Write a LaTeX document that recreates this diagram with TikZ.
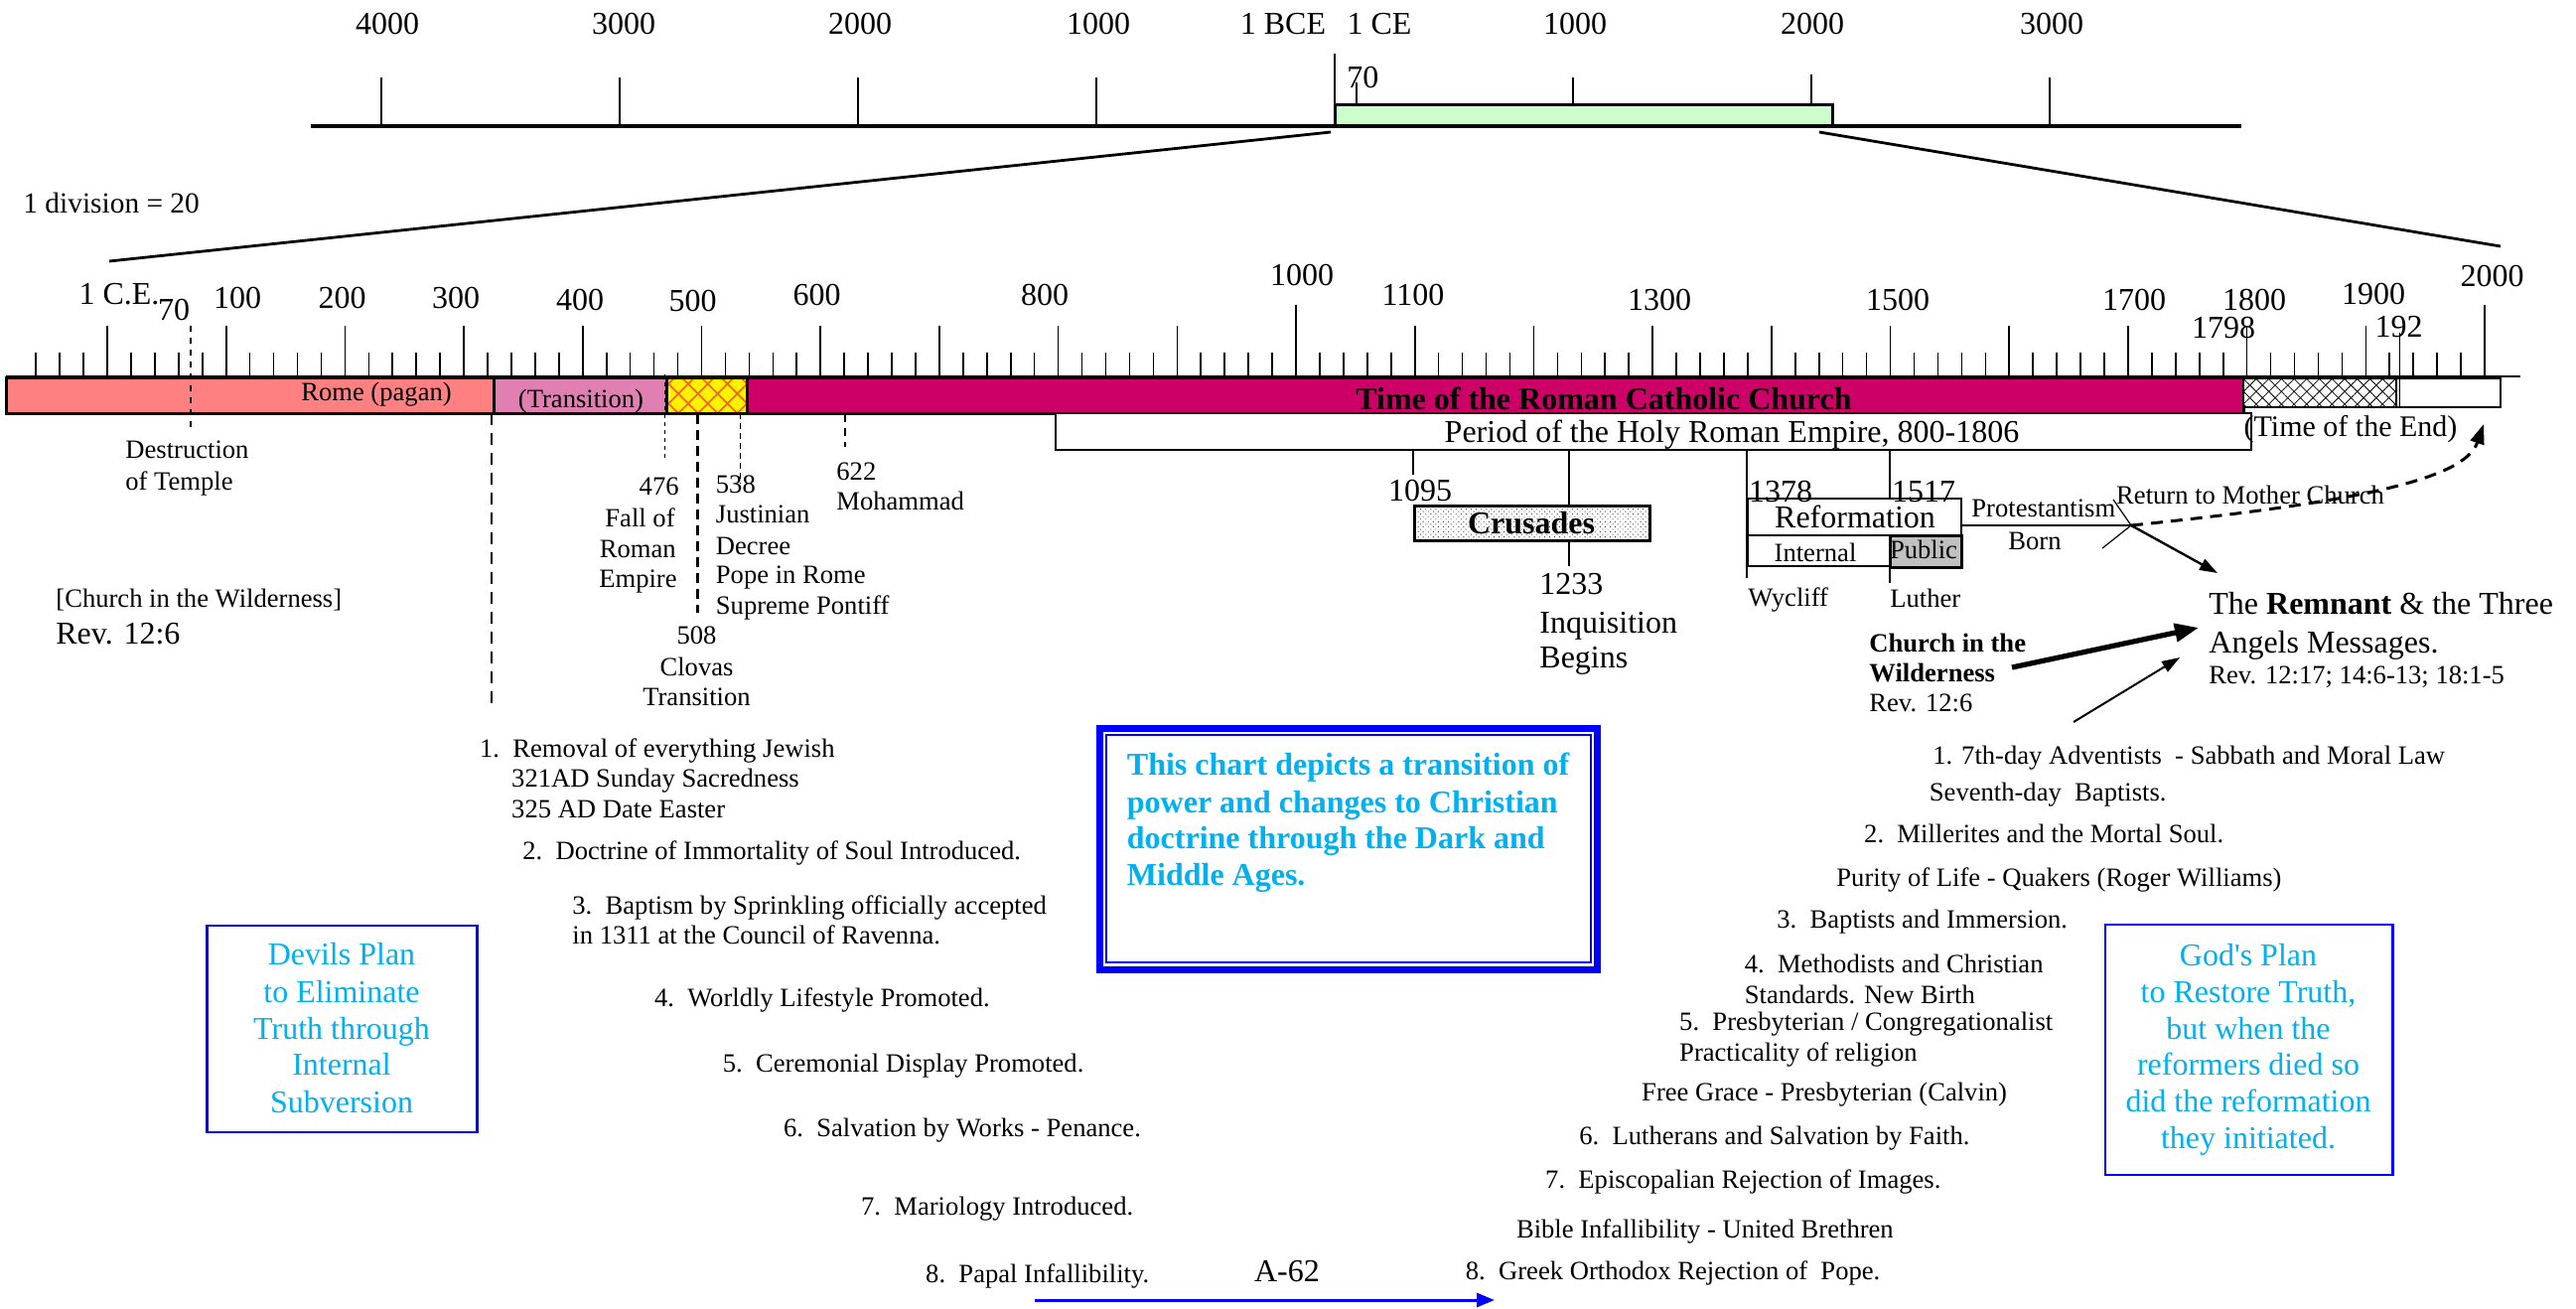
\documentclass[tikz,border=0pt]{standalone}
\usepackage{fontspec}
\setmainfont{Liberation Serif}
\usetikzlibrary{patterns,patterns.meta,arrows.meta}
\definecolor{salmonb}{RGB}{255,128,128}
\definecolor{orchidp}{RGB}{224,128,178}
\definecolor{rccm}{RGB}{204,0,102}
\definecolor{lgreen}{RGB}{204,255,204}
\definecolor{skyb}{RGB}{0,176,240}
\definecolor{pubgray}{RGB}{192,192,192}
\definecolor{hatchor}{RGB}{255,90,20}
\begin{document}
\begin{tikzpicture}[x=0.5pt,y=-0.5pt,
  sm/.style={font=\fontsize{13.3}{16}\selectfont, inner sep=0pt, text height=8.8pt, text depth=0pt},
  lg/.style={font=\fontsize{16}{19}\selectfont, inner sep=0pt, text height=10.6pt, text depth=0pt},
  md/.style={font=\fontsize{15}{18}\selectfont, inner sep=0pt, text height=9.9pt, text depth=0pt},
  blu/.style={text=skyb},
  tick/.style={line width=0.8pt},
  bar/.style={draw=black, line width=1.5pt},
  thinl/.style={line width=0.6pt},
  arr/.style={-{Triangle[length=9pt,width=6pt]}},
  bluebox/.style={draw=blue, line width=1.1pt}
]
\useasboundingbox (0,0) rectangle (2594,1317);
\fill[white] (0,0) rectangle (2594,1317);

% ---------- top axis ----------
\coordinate (ta0) at (313,127);
\coordinate (ta1) at (2257,127);
\foreach \xx in {384,624,864,1104,1584,2064}{\draw[line width=0.85pt] (\xx,78) -- (\xx,127);}
\draw[line width=0.85pt] (1824,75) -- (1824,127);
\draw[line width=1pt] (1344,54) -- (1344,127);
\draw[line width=1.5pt, fill=lgreen] (1344,105) rectangle (1845,127);
\draw[line width=0.85pt] (1824,75) -- (1824,105);
\draw[line width=0.85pt] (1584,78) -- (1584,105);
\draw[thinl] (1366,83) -- (1366,105);
\draw[line width=1.65pt] (ta0) -- (ta1);

\node[lg] (t4000) at (390,24) {4000};
\node[lg] (t3000) at (628,24) {3000};
\node[lg] (t2000) at (866,24) {2000};
\node[lg] (t1000) at (1106,24) {1000};
\node[lg] (tbce) at (1292,24) {1 BCE};
\node[lg] (tce) at (1389,24) {1 CE};
\node[lg] (t1000c) at (1586,24) {1000};
\node[lg] (t2000c) at (1825,24) {2000};
\node[lg] (t3000c) at (2066,24) {3000};
\node[lg, anchor=west] (t70) at (1356,78) {70};

% zoom lines
\coordinate (zl0) at (1340,133);
\coordinate (zl1) at (110,263);
\coordinate (zr0) at (1832,133);
\coordinate (zr1) at (2518,248);
\draw[line width=1.4pt] (zl0) -- (zl1);
\draw[line width=1.4pt] (zr0) -- (zr1);

\node[font=\fontsize{14.7}{17}\selectfont, inner sep=0pt, text height=9.7pt, text depth=0pt, anchor=west] (div) at (23,205) {1 division = 20};

% ---------- lower axis ticks ----------
\foreach \yr in {-60,-40,...,2000}{
  \pgfmathsetmacro\xx{108+1.197*\yr}
  \pgfmathsetmacro\tk{(mod(\yr,1000)==0 && \yr>0) ? 307 : (mod(\yr,100)==0 ? 328 : 355)}
  \draw[tick] (\xx,\tk) -- (\xx,379);
}
\draw[line width=1pt] (6,379) -- (2538,379);

% labels lower axis
\node[lg] (l1ce) at (120,296) {1 C.E.};
\node[lg] (l70) at (175,312) {70};
\node[lg] (l100) at (239,300) {100};
\node[lg] (l200) at (344.5,300) {200};
\node[lg] (l300) at (459,300) {300};
\node[lg] (l400) at (584,302) {400};
\node[lg] (l500) at (697.5,303) {500};
\node[lg] (l600) at (822.6,297) {600};
\node[lg] (l800) at (1052,297) {800};
\node[lg] (l1000) at (1311,277) {1000};
\node[lg] (l1100) at (1423,297) {1100};
\node[lg] (l1300) at (1671,302) {1300};
\node[lg] (l1500) at (1911,302) {1500};
\node[lg] (l1700) at (2149,302) {1700};
\node[lg] (l1800) at (2270,302) {1800};
\node[lg] (l1798) at (2239,330) {1798};
\node[lg] (l1900) at (2390,296) {1900};
\node[lg] (l192) at (2415.5,329) {192};
\node[lg] (l2000) at (2509.6,278) {2000};

% ---------- bars ----------
\draw[bar, fill=salmonb] (6,380) rectangle (497,416);
\draw[bar, fill=orchidp] (497,380) rectangle (671,416);
\draw[bar, preaction={fill=yellow}, pattern={Hatch[angle=45,distance=7pt,line width=0.8pt]}, pattern color=hatchor] (671,380) rectangle (752,416);
\draw[bar, fill=rccm] (752,380) rectangle (2259,416);
\draw[line width=1.2pt, preaction={fill=white}, pattern={Hatch[angle=45,distance=4.5pt,line width=0.4pt]}, pattern color=black] (2259,381) rectangle (2413,410);
\draw[line width=1.2pt, fill=white] (2413,381) rectangle (2518,410);
\draw[thinl] (2416.6,335) -- (2416.6,410);

\node[sm] (rome) at (379,395) {Rome (pagan)};
\node[sm] (trans) at (585,402) {(Transition)};
\node[lg, font=\fontsize{16}{19}\selectfont\bfseries] (rcc) at (1615,402) {Time of the Roman Catholic Church};

% dashed markers
\draw[line width=0.8pt, dashed] (191.8,328) -- (191.8,433);
\draw[line width=0.8pt, dash pattern=on 6pt off 4pt] (495,416) -- (495,713);
\draw[line width=0.5pt, dash pattern=on 2pt off 2pt] (669,377) -- (669,465);
\draw[line width=1.6pt, dash pattern=on 5pt off 3pt] (702.6,417) -- (702.6,617);
\draw[line width=0.5pt, dash pattern=on 3pt off 2pt] (745.7,416) -- (745.7,487);
\draw[line width=0.8pt, dash pattern=on 4pt off 3pt] (851,417) -- (851,450);

% Holy Roman Empire
\draw[thinl] (1423,453) -- (1423,478);
\draw[thinl] (1580,453) -- (1580,570);
\draw[thinl] (1759,453) -- (1759,582);
\draw[thinl] (1903,453) -- (1903,587);
\draw[line width=1.3pt, fill=white] (1063,416) rectangle (2267,453);
\node[lg] (hre) at (1744,435) {Period of the Holy Roman Empire, 800-1806};
\node[md] (toe) at (2367,430) {(Time of the End)};

% left texts
\node[sm, anchor=west] (dest1) at (126,453) {Destruction};
\node[sm, anchor=west] (dest2) at (126,485) {of Temple};
\node[sm, anchor=east] (f476) at (684,490) {476};
\node[sm, anchor=east] (f1) at (680,522) {Fall of};
\node[sm, anchor=east] (f2) at (681,553) {Roman};
\node[sm, anchor=east] (f3) at (682,583) {Empire};
\node[sm, anchor=west] (j538) at (720.5,488) {538};
\node[sm, anchor=west] (j1) at (720.5,518) {Justinian};
\node[sm, anchor=west] (j2) at (720.5,550) {Decree};
\node[sm, anchor=west] (j3) at (720.5,579) {Pope in Rome};
\node[sm, anchor=west] (j4) at (720.5,610) {Supreme Pontiff};
\node[sm] (c508) at (701.5,640) {508};
\node[sm] (c1) at (701.5,672) {Clovas};
\node[sm] (c2) at (701.5,702) {Transition};
\node[sm, anchor=west] (m622) at (842,475) {622};
\node[sm, anchor=west] (m1) at (842,505) {Mohammad};
\node[sm, anchor=west] (ciw) at (56,603) {[Church in the Wilderness]};
\node[lg, anchor=west] (rev1) at (56,638) {Rev. 12:6};

% Crusades
\node[lg] (n1095) at (1430,494) {1095};
\draw[line width=1.5pt, preaction={fill=white}, pattern={Dots[distance=1.8pt,radius=0.32pt,angle=45]}, pattern color=black!75] (1424,509) rectangle (1661,544);
\node[lg, font=\fontsize{16}{19}\selectfont\bfseries] (crus) at (1542,527) {Crusades};
\node[lg, anchor=west] (n1233) at (1550,588) {1233};
\node[lg, anchor=west] (inq1) at (1550,627) {Inquisition};
\node[lg, anchor=west] (inq2) at (1550,662) {Begins};

% Reformation
\draw[line width=0.8pt, fill=white] (1760,502) rectangle (1975,539);
\draw[line width=0.8pt, fill=white] (1760,539) rectangle (1903,570);
\draw[line width=1.5pt, fill=pubgray] (1903,539) rectangle (1975,571);
\node[lg] (n1378) at (1793,495) {1378};
\node[lg] (n1517) at (1937,495) {1517};
\node[lg] (reform) at (1868,521) {Reformation};
\node[sm] (internal) at (1828,557) {Internal};
\node[sm] (public) at (1937,554) {Public};
\node[sm, anchor=west] (wyc) at (1760,602) {Wycliff};
\node[sm, anchor=west] (luth) at (1903,603) {Luther};

\coordinate (pb0) at (1975,529);
\coordinate (pbv) at (2146,529);
\coordinate (pbu) at (2128,503);
\coordinate (pbd) at (2117,552);
\draw[line width=0.8pt] (pb0) -- (pbv);
\draw[thinl] (pbu) -- (pbv) -- (pbd);
\node[sm, anchor=west] (prot) at (1985,512) {Protestantism};
\node[sm] (born) at (2049,545) {Born};
\node[sm] (retm) at (2266,499) {Return to Mother Church};

\coordinate (rettip) at (2501,427);
\draw[line width=1.5pt, dash pattern=on 6pt off 4pt, -{Triangle[length=10pt,width=7pt]}] (pbv) .. controls (2380,505) and (2482,482) .. (rettip);

% Remnant
\node[lg, anchor=west] (rem1) at (2224,608) {The \textbf{Remnant} \& the Three};
\node[lg, anchor=west] (rem2) at (2224,647) {Angels Messages.};
\node[sm, anchor=west] (rem3) at (2224,680) {Rev. 12:17; 14:6-13; 18:1-5};
\coordinate (remtip) at (2233,577);
\draw[line width=1.2pt, arr] (pbv) -- (remtip);

\node[sm, anchor=west, font=\fontsize{13.3}{16}\selectfont\bfseries] (cw1) at (1882,648) {Church in the};
\node[sm, anchor=west, font=\fontsize{13.3}{16}\selectfont\bfseries] (cw2) at (1882,678) {Wilderness};
\node[sm, anchor=west] (cw3) at (1882,708) {Rev. 12:6};
\coordinate (cwa0) at (2026,672);
\coordinate (cwa1) at (2214,632);
\draw[line width=2.6pt, -{Triangle[length=12pt,width=9pt]}] (cwa0) -- (cwa1);
\coordinate (ta0b) at (2088,727);
\coordinate (ta1b) at (2195,662);
\draw[line width=1pt, arr] (ta0b) -- (ta1b);

% ---------- blue central box ----------
\draw[draw=blue, line width=3.5pt] (1107.5,733) rectangle (1608.5,976);
\draw[draw=blue, line width=1.2pt] (1114,740) rectangle (1602,969);
\node[lg, blu, anchor=west, font=\fontsize{16}{19}\selectfont\bfseries] (bx1) at (1134.5,769.5) {This chart depicts a transition of};
\node[lg, blu, anchor=west, font=\fontsize{16}{19}\selectfont\bfseries] (bx2) at (1134.5,807.5) {power and changes to Christian};
\node[lg, blu, anchor=west, font=\fontsize{16}{19}\selectfont\bfseries] (bx3) at (1134.5,844) {doctrine through the Dark and};
\node[lg, blu, anchor=west, font=\fontsize{16}{19}\selectfont\bfseries] (bx4) at (1134.5,881) {Middle Ages.};

% Devils plan box
\draw[bluebox] (208.5,932) rectangle (480.5,1140);
\node[lg, blu] (dv1) at (344,961) {Devils Plan};
\node[lg, blu] (dv2) at (344,999) {to Eliminate};
\node[lg, blu] (dv3) at (344,1036) {Truth through};
\node[lg, blu] (dv4) at (344,1072) {Internal};
\node[lg, blu] (dv5) at (344,1110) {Subversion};

% God's plan box
\draw[bluebox] (2120,931) rectangle (2409.5,1183);
\node[lg, blu] (gp1) at (2264,962) {God\textquotesingle s Plan};
\node[lg, blu] (gp2) at (2264,999) {to Restore Truth,};
\node[lg, blu] (gp3) at (2264,1036) {but when the};
\node[lg, blu] (gp4) at (2264,1072) {reformers died so};
\node[lg, blu] (gp5) at (2264,1109) {did the reformation};
\node[lg, blu] (gp6) at (2264,1146) {they initiated.};

% ---------- left list ----------
\node[sm, anchor=west] (a1) at (482.6,753.5) {1.\enspace Removal of everything Jewish};
\node[sm, anchor=west] (a1b) at (514.8,784) {321AD Sunday Sacredness};
\node[sm, anchor=west] (a1c) at (514.8,815) {325 AD Date Easter};
\node[sm, anchor=west] (a2) at (526,857) {2.\enspace Doctrine of Immortality of Soul Introduced.};
\node[sm, anchor=west] (a3) at (576,912) {3.\enspace Baptism by Sprinkling officially accepted};
\node[sm, anchor=west] (a3b) at (576,942) {in 1311 at the Council of Ravenna.};
\node[sm, anchor=west] (a4) at (658.6,1004.7) {4.\enspace Worldly Lifestyle Promoted.};
\node[sm, anchor=west] (a5) at (727.5,1071) {5.\enspace Ceremonial Display Promoted.};
\node[sm, anchor=west] (a6) at (788.7,1136) {6.\enspace Salvation by Works - Penance.};
\node[sm, anchor=west] (a7) at (866.7,1215) {7.\enspace Mariology Introduced.};
\node[sm, anchor=west] (a8) at (931.8,1282.6) {8.\enspace Papal Infallibility.};
\node[lg] (a62) at (1296,1280) {A-62};
\coordinate (ba0) at (1042,1309);
\coordinate (ba1) at (1505,1309);
\draw[draw=blue, line width=1.5pt, -{Triangle[length=9pt,width=7pt]}] (ba0) -- (ba1);

% ---------- right list ----------
\node[sm, anchor=west] (b1) at (1946,761) {1. 7th-day Adventists\ \ - Sabbath and Moral Law};
\node[sm, anchor=west] (b1b) at (1942.5,798) {Seventh-day\ \ Baptists.};
\node[sm, anchor=west] (b2) at (1876.8,840) {2.\enspace Millerites and the Mortal Soul.};
\node[sm, anchor=west] (b2b) at (1849,884) {Purity of Life - Quakers (Roger Williams)};
\node[sm, anchor=west] (b3) at (1789,926) {3.\enspace Baptists and Immersion.};
\node[sm, anchor=west] (b4) at (1756.4,970.5) {4.\enspace Methodists and Christian};
\node[sm, anchor=west] (b4b) at (1756.4,1001.7) {Standards. New Birth};
\node[sm, anchor=west] (b5) at (1690.8,1029) {5.\enspace Presbyterian / Congregationalist};
\node[sm, anchor=west] (b5b) at (1690.8,1060) {Practicality of religion};
\node[sm, anchor=west] (b5c) at (1652.8,1100) {Free Grace - Presbyterian (Calvin)};
\node[sm, anchor=west] (b6) at (1590,1143.7) {6.\enspace Lutherans and Salvation by Faith.};
\node[sm, anchor=west] (b7) at (1555.8,1187.5) {7.\enspace Episcopalian Rejection of Images.};
\node[sm, anchor=west] (b7b) at (1526.6,1237.7) {Bible Infallibility - United Brethren};
\node[sm, anchor=west] (b8) at (1475.5,1279.6) {8.\enspace Greek Orthodox Rejection of\ \ Pope.};
\end{tikzpicture}
\end{document}
